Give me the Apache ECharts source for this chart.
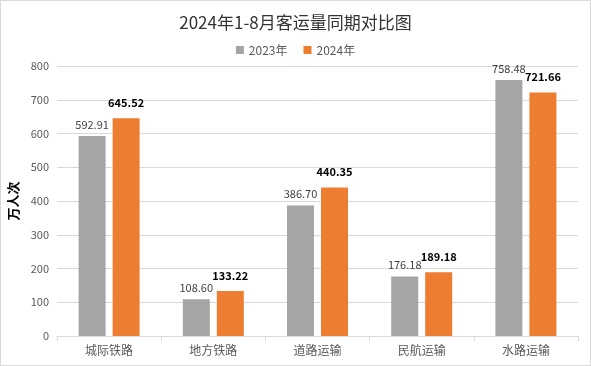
<!DOCTYPE html>
<html><head><meta charset="utf-8">
<script src="https://cdn.jsdelivr.net/npm/echarts@6/dist/echarts.min.js"></script>
<style>html,body{margin:0;padding:0;background:#fff}#c{width:591px;height:366px;box-sizing:border-box;border:1px solid #d9d9d9}</style>
</head><body><div id="c"></div>
<script>
const categories = ['城际铁路','地方铁路','道路运输','民航运输','水路运输'];
const values2023 = [592.91,108.60,386.70,176.18,758.48];
const values2024 = [645.52,133.22,440.35,189.18,721.66];
const seriesNames = ['2023年','2024年'];
const chart = echarts.init(document.getElementById('c'));
const font = '"Microsoft YaHei","Noto Sans CJK SC",sans-serif';
chart.setOption({
  animation:false,
  title:{text:'2024年1-8月客运量同期对比图',left:'center',top:8,textStyle:{fontSize:17,fontWeight:'normal',color:'#333',fontFamily:font}},
  legend:{data:seriesNames,top:38,left:'center',itemWidth:8,itemHeight:8,itemGap:16,icon:'rect',textStyle:{fontSize:12,color:'#595959',fontFamily:font}},
  grid:{left:56,right:12,top:65,bottom:29,containLabel:false,outerBoundsMode:'none'},
  xAxis:{type:'category',data:categories,axisLine:{lineStyle:{color:'#d9d9d9'}},axisTick:{show:true,lineStyle:{color:'#d9d9d9'},length:5},axisLabel:{fontSize:12,color:'#595959',margin:8,fontFamily:font}},
  yAxis:{type:'value',min:0,max:800,interval:100,name:'万人次',nameLocation:'middle',nameGap:37,nameMoveOverlap:false,nameRotate:90,nameTextStyle:{fontSize:13,fontWeight:'bold',color:'#000',fontFamily:font},
    axisLabel:{fontSize:11,color:'#595959',margin:8,fontFamily:font},splitLine:{lineStyle:{color:'#d9d9d9'}},axisLine:{show:false},axisTick:{show:false}},
  series:[
    {name:seriesNames[0],type:'bar',data:values2023,barWidth:27,barGap:'26%',itemStyle:{color:'#a5a5a5'},
      label:{show:true,position:'top',formatter:p=>p.value.toFixed(2),fontSize:11,color:'#404040',distance:6,fontFamily:font}},
    {name:seriesNames[1],type:'bar',data:values2024,barWidth:27,itemStyle:{color:'#ed7d31'},
      label:{show:true,position:'top',formatter:p=>p.value.toFixed(2),fontSize:11,fontWeight:'bold',color:'#000',distance:10,fontFamily:font}}
  ]
});
</script></body></html>
